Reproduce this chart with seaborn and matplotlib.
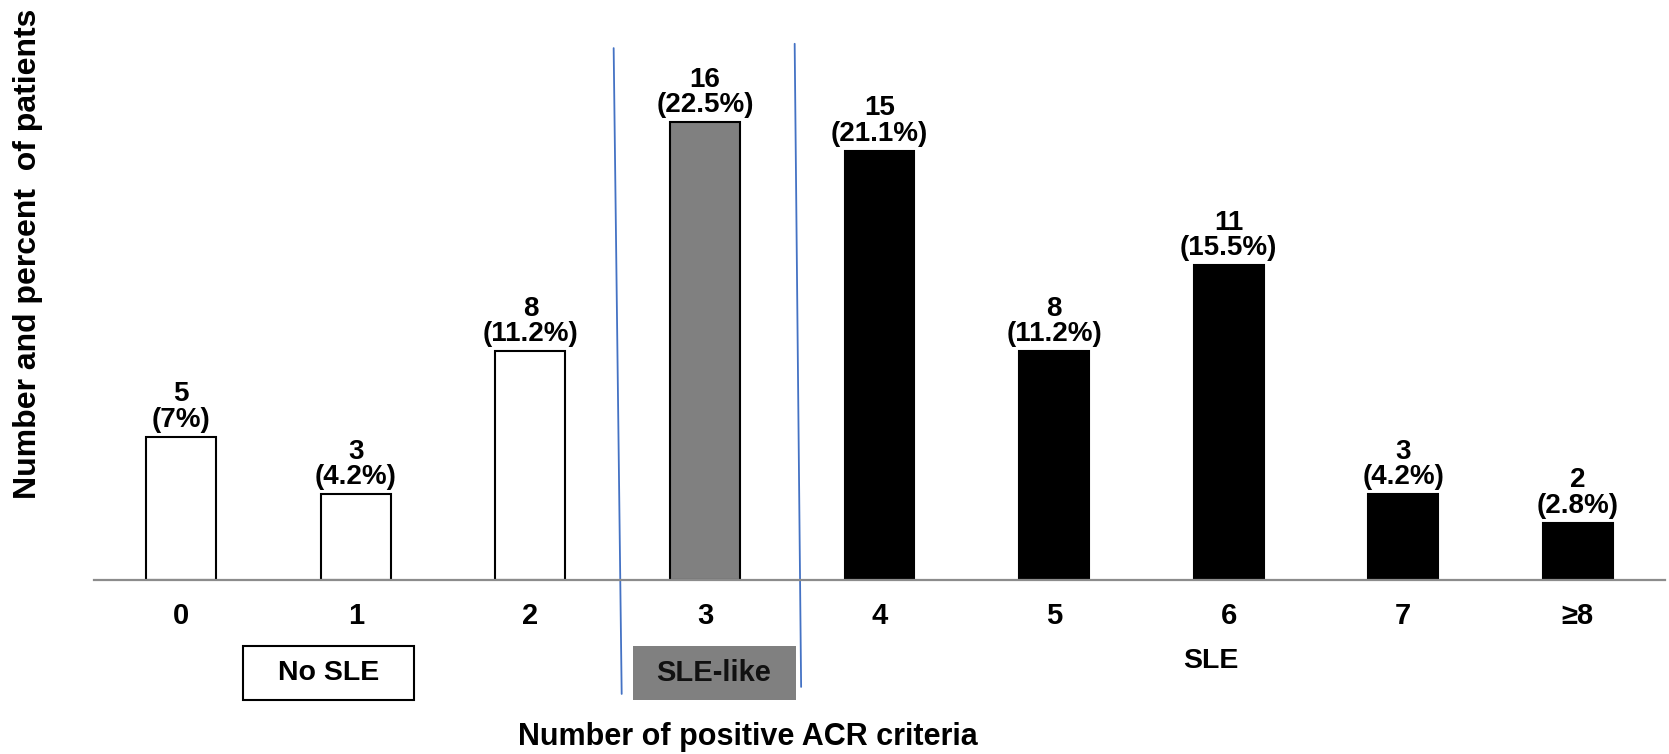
import matplotlib
matplotlib.use("Agg")
import matplotlib.pyplot as plt
import matplotlib.transforms as mtransforms
from matplotlib.patches import Rectangle
from matplotlib.lines import Line2D
import seaborn as sns
import pandas as pd

# ---- data ----
categories = ["0", "1", "2", "3", "4", "5", "6", "7", "≥8"]
counts = [5, 3, 8, 16, 15, 8, 11, 3, 2]
percents = ["7%", "4.2%", "11.2%", "22.5%", "21.1%", "11.2%", "15.5%", "4.2%", "2.8%"]
groups = ["No SLE", "No SLE", "No SLE", "SLE-like", "SLE", "SLE", "SLE", "SLE", "SLE"]
group_colors = {"No SLE": "#FFFFFF", "SLE-like": "#808080", "SLE": "#000000"}
x_title = "Number of positive ACR criteria"
y_title = "Number and percent  of patients"

sns.set_theme(style="white")
plt.rcParams["font.family"] = ["Liberation Sans", "DejaVu Sans"]
plt.rcParams["font.weight"] = "bold"
plt.rcParams["text.color"] = "black"
plt.rcParams["axes.labelcolor"] = "black"
plt.rcParams["xtick.color"] = "black"

df = pd.DataFrame({"criteria": categories, "count": counts, "group": groups})

fig = plt.figure(figsize=(16.69, 7.54), dpi=100)
ax = fig.add_axes([94 / 1669, 1 - 580 / 754, 1571 / 1669, 540 / 754])

sns.barplot(data=df, x="criteria", y="count", hue="group", order=categories,
            palette=group_colors, dodge=False, width=0.4, edgecolor="black",
            linewidth=1.5, legend=False, ax=ax)

ax.set_xlim(-0.5, 8.5)
ax.set_ylim(0, 540 / 28.6)

for sp in ["top", "right", "left"]:
    ax.spines[sp].set_visible(False)
ax.spines["bottom"].set_color("#8C8C8C")
ax.spines["bottom"].set_linewidth(1.6)
ax.spines["bottom"].set_zorder(5)
ax.set_yticks([])
ax.tick_params(axis="x", length=0, pad=16, labelsize=21, labelcolor="black")
for lbl in ax.get_xticklabels():
    lbl.set_fontweight("bold")

# bar value labels
for i, (c, p) in enumerate(zip(counts, percents)):
    ax.annotate(f"{c}\n({p})", xy=(i, c), xytext=(0, 3), textcoords="offset points",
                ha="center", va="bottom", fontsize=20, fontweight="bold",
                linespacing=0.97, color="black")

# axis titles
ax.set_xlabel(x_title, fontsize=22, fontweight="bold", color="black")
ax.xaxis.set_label_coords(0.416, -0.29)
ax.xaxis.label.set_va("center")
ax.set_ylabel(y_title, fontsize=23, fontweight="bold", color="black")
ax.yaxis.set_label_coords(-0.0422, 0.604)
ax.yaxis.label.set_va("center")

# separators (x in data, y in axes fraction)
blend = mtransforms.blended_transform_factory(ax.transData, ax.transAxes)
ax.add_line(Line2D([2.477, 2.523], [0.985, -0.211], transform=blend, color="#4472C4",
                   linewidth=1.3, clip_on=False))
ax.add_line(Line2D([3.514, 3.551], [0.993, -0.198], transform=blend, color="#4472C4",
                   linewidth=1.3, clip_on=False))

# group boxes
ax.add_patch(Rectangle((0.354, -0.222), 0.98, 0.1, transform=blend, facecolor="white",
                       edgecolor="black", linewidth=1.5, clip_on=False))
ax.text(0.844, -0.172, "No SLE", transform=blend, ha="center", va="center",
        fontsize=20.5, fontweight="bold")
ax.add_patch(Rectangle((2.588, -0.222), 0.933, 0.1, transform=blend, facecolor="#808080",
                       edgecolor="none", clip_on=False))
ax.text(3.05, -0.172, "SLE-like", transform=blend, ha="center", va="center",
        fontsize=21, fontweight="bold", color="#111111")
ax.text(5.9, -0.15, "SLE", transform=blend, ha="center", va="center",
        fontsize=20.5, fontweight="bold")

fig.savefig("out.png", dpi=100)
